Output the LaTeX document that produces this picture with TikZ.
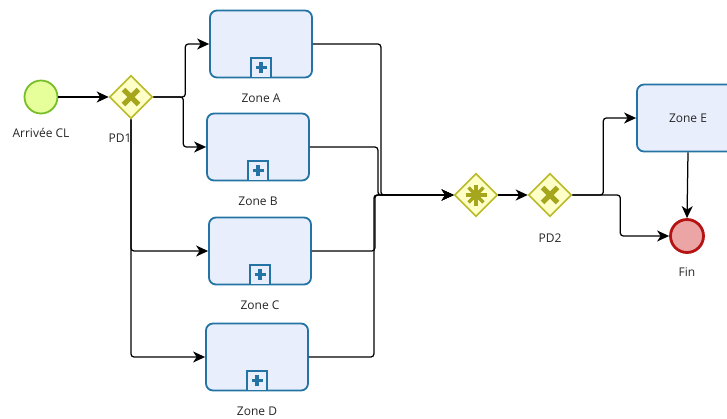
\documentclass[tikz,border=0pt]{standalone}
\usepackage{fontspec}
\setmainfont{Open Sans}
\usetikzlibrary{positioning, arrows.meta, calc, shapes.geometric}

\definecolor{startfill}{RGB}{230,255,155}
\definecolor{startline}{RGB}{120,190,40}
\definecolor{gwfill}{RGB}{255,255,200}
\definecolor{gwline}{RGB}{185,185,40}
\definecolor{gwmark}{RGB}{165,165,30}
\definecolor{taskfill}{RGB}{232,238,252}
\definecolor{taskline}{RGB}{35,115,165}
\definecolor{endfill}{RGB}{236,165,165}
\definecolor{endline}{RGB}{180,20,20}

\begin{document}
\begin{tikzpicture}[x=1pt, y=-1pt,
  every node/.style={font=\fontsize{12}{14}\selectfont, text=black!85},
  arr/.style={-{Stealth[length=12pt, width=11pt, inset=3.5pt]}, line width=1.25pt, black, rounded corners=3pt},
  startev/.style={circle, draw=startline, fill=startfill, line width=1.8pt, minimum size=33pt, inner sep=0pt},
  endev/.style={circle, draw=endline, fill=endfill, line width=2.8pt, minimum size=33pt, inner sep=0pt},
  gwbox/.style={diamond, draw=gwline, fill=gwfill, line width=1.6pt, minimum width=43pt, minimum height=43pt, inner sep=0pt},
  xgw/.style={gwbox, path picture={
      \draw[gwmark, line width=5pt]
        ($(path picture bounding box.center)+(-7.5pt,-7.5pt)$) -- ++(15pt,15pt)
        ($(path picture bounding box.center)+(-7.5pt,7.5pt)$) -- ++(15pt,-15pt);}},
  pargw/.style={gwbox, path picture={
      \foreach \a in {0,45,90,135}
        \draw[gwmark, line width=3.4pt]
          ($(path picture bounding box.center)+(\a:10.5pt)$) -- ($(path picture bounding box.center)+(\a+180:10.5pt)$);}},
  taskbox/.style={draw=taskline, fill=taskfill, line width=1.8pt, rounded corners=7pt,
                  minimum width=102pt, minimum height=67pt, inner sep=0pt},
  subm/.style={draw=taskline, fill=taskfill, line width=1.6pt, minimum size=19.5pt, inner sep=0pt,
               anchor=south, path picture={
      \draw[taskline, line width=3.2pt]
        ($(path picture bounding box.center)+(-5.5pt,0)$) -- ++(11pt,0)
        ($(path picture bounding box.center)+(0,-5.5pt)$) -- ++(0,11pt);}}
]
\useasboundingbox (0,0) rectangle (727,418);

% ---- Start and first gateway ----
\node[startev] (st) at (41,97) {};
\node (stl) at (41,133) {Arrivée CL};
\node[xgw] (pd1) at (131,97) {};
\node (pd1l) at (120,138) {PD1};

% ---- Zones (sub-processes) ----
\node[taskbox] (za) at (261,44) {};
\node[taskbox] (zb) at (258,147) {};
\node[taskbox] (zc) at (260,251) {};
\node[taskbox] (zd) at (257,357) {};
\foreach \z in {za,zb,zc,zd}
  \node[subm] (\z m) at (\z.south) {};

\node (zal) at (261,98) {Zone A};
\node (zbl) at (258,201) {Zone B};
\node (zcl) at (260,305) {Zone C};
\node (zdl) at (257,411) {Zone D};

% ---- Merge, second gateway, end ----
\node[pargw] (mg) at (476,195) {};
\node[xgw] (pd2) at (550,195) {};
\node (pd2l) at (550,238) {PD2};
\node[taskbox] (ze) at (688,118) {Zone E};
\node[endev] (fin) at (687,236) {};
\node (finl) at (687,272) {Fin};

% ---- Arrows: start -> PD1 -> zones ----
\draw[arr] (st.east) -- (pd1.west);
\draw[arr] (pd1.east) -- ++(32,0) |- (za.west);
\draw[arr] (pd1.east) -- ++(30,0) |- (zb.west);
\draw[arr] (pd1.south) |- (zc.west);
\draw[arr] (pd1.south) |- (zd.west);

% ---- Arrows: zones -> merge ----
\foreach \z/\d in {za/68, zb/68, zc/63, zd/65}
  \draw[arr] (\z.east) -- ++(\d,0) |- (mg.west);

% ---- Arrows: merge -> PD2 -> E / Fin ----
\draw[arr] (mg.east) -- (pd2.west);
\draw[arr] (pd2.east) -- ++(31,0) |- (ze.west);
\draw[arr] (pd2.east) -- ++(48,0) |- (fin.west);
\draw[arr] (ze.south) -- (fin.north);

\end{tikzpicture}
\end{document}
